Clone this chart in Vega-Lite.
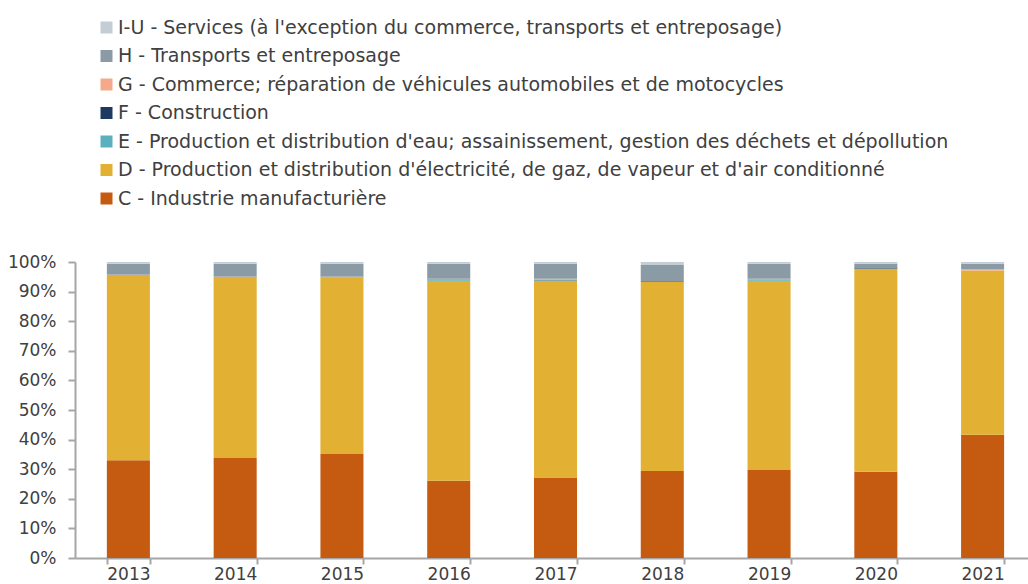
{
  "$schema": "https://vega.github.io/schema/vega-lite/v6.json",
  "autosize": {"type": "none"},
  "width": 953,
  "height": 296,
  "padding": {"left": 75, "top": 262, "right": 0, "bottom": 26},
  "background": "white",
  "config": {
    "view": {"stroke": null},
    "font": "DejaVu Sans"
  },
  "datasets": {
    "secteurs": [
      {"code": "C", "secteur": "C - Industrie manufacturière"},
      {"code": "D", "secteur": "D - Production et distribution d'électricité, de gaz, de vapeur et d'air conditionné"},
      {"code": "E", "secteur": "E - Production et distribution d'eau; assainissement, gestion des déchets et dépollution"},
      {"code": "F", "secteur": "F - Construction"},
      {"code": "G", "secteur": "G - Commerce; réparation de véhicules automobiles et de motocycles"},
      {"code": "H", "secteur": "H - Transports et entreposage"},
      {"code": "IU", "secteur": "I-U - Services (à l'exception du commerce, transports et entreposage)"}
    ]
  },
  "data": {
    "values": [
      {"annee": "2013", "C": 33.0, "D": 62.6, "E": 0.1, "F": 0.1, "G": 0.1, "H": 3.5, "IU": 0.6},
      {"annee": "2014", "C": 33.8, "D": 61.1, "E": 0.1, "F": 0.1, "G": 0.1, "H": 4.2, "IU": 0.6},
      {"annee": "2015", "C": 35.1, "D": 59.7, "E": 0.2, "F": 0.1, "G": 0.1, "H": 4.2, "IU": 0.6},
      {"annee": "2016", "C": 26.1, "D": 67.6, "E": 0.4, "F": 0.1, "G": 0.1, "H": 5.1, "IU": 0.6},
      {"annee": "2017", "C": 27.2, "D": 66.5, "E": 0.1, "F": 0.1, "G": 0.4, "H": 5.1, "IU": 0.6},
      {"annee": "2018", "C": 29.4, "D": 64.0, "E": 0.0, "F": 0.2, "G": 0.0, "H": 5.4, "IU": 1.0},
      {"annee": "2019", "C": 29.7, "D": 64.0, "E": 0.5, "F": 0.0, "G": 0.1, "H": 5.1, "IU": 0.6},
      {"annee": "2020", "C": 29.1, "D": 68.6, "E": 0.1, "F": 0.3, "G": 0.0, "H": 1.3, "IU": 0.6},
      {"annee": "2021", "C": 41.6, "D": 55.5, "E": 0.0, "F": 0.0, "G": 0.5, "H": 1.8, "IU": 0.6}
    ]
  },
  "transform": [
    {"fold": ["C", "D", "E", "F", "G", "H", "IU"], "as": ["code", "part"]},
    {"lookup": "code", "from": {"data": {"name": "secteurs"}, "key": "code", "fields": ["secteur"]}}
  ],
  "mark": {"type": "bar"},
  "encoding": {
    "x": {
      "field": "annee", "type": "ordinal",
      "scale": {"range": [0, 961], "paddingInner": 0.597, "paddingOuter": 0.2985},
      "axis": {
        "title": null, "labelAngle": 0, "tickBand": "extent",
        "domainColor": "#A6A6A6", "domainWidth": 2, "tickColor": "#A6A6A6", "tickWidth": 2, "tickSize": 6,
        "labelFontSize": 17, "labelColor": "#404040", "labelPadding": 2
      }
    },
    "y": {
      "field": "part", "type": "quantitative", "stack": "zero",
      "scale": {"domain": [0, 100], "nice": false},
      "axis": {
        "title": null, "grid": false, "values": [0, 10, 20, 30, 40, 50, 60, 70, 80, 90, 100],
        "labelExpr": "datum.value + '%'",
        "domainColor": "#A6A6A6", "domainWidth": 2, "tickColor": "#A6A6A6", "tickWidth": 2, "tickSize": 7,
        "labelFontSize": 17, "labelColor": "#404040", "labelPadding": 12
      }
    },
    "color": {
      "field": "secteur", "type": "nominal", "sort": "descending",
      "scale": {"range": ["#C5CDD4", "#8A9BA5", "#F4A98A", "#1F3A60", "#5BB0C0", "#E2B033", "#C55A11"]},
      "legend": {
        "title": null, "orient": "none", "legendX": 22, "legendY": -244,
        "symbolType": "square", "symbolSize": 144, "symbolStrokeWidth": 0, "symbolOpacity": 1,
        "labelFontSize": 19, "labelColor": "#404040", "labelLimit": 1000, "rowPadding": 8.5, "labelOffset": 2
      }
    },
    "order": {"field": "code", "sort": "ascending"}
  }
}
